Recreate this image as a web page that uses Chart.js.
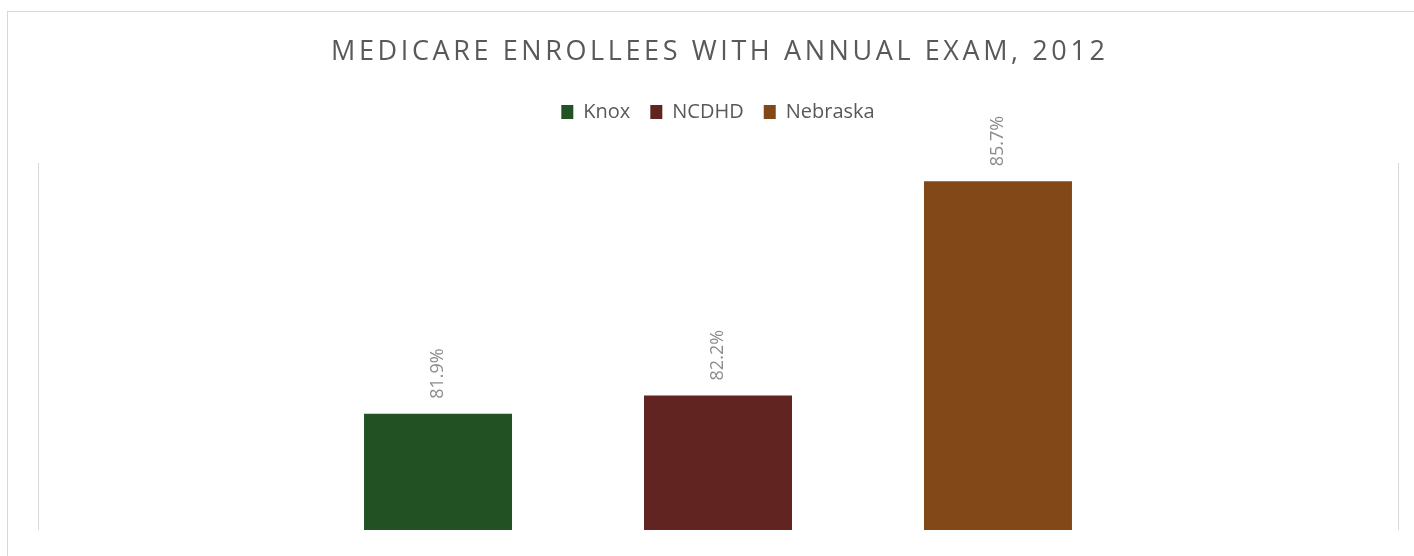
<!DOCTYPE html>
<html>
<head>
<meta charset="utf-8">
<script src="https://cdn.jsdelivr.net/npm/chart.js@4/dist/chart.umd.min.js"></script>
<style>
    html, body { margin: 0; padding: 0; background: #fff; overflow: hidden; }
    #frame {
        position: absolute; left: 7px; top: 11px; width: 2000px; height: 1000px;
        border-left: 1px solid #d9d9d9; border-top: 1px solid #d9d9d9;
    }
    #chart { position: absolute; left: 0; top: 0; }
</style>
</head>
<body>
<div id="frame"></div>
<canvas id="chart" width="1414" height="556"></canvas>
<script>
// Data
const chartTitle = 'MEDICARE ENROLLEES WITH ANNUAL EXAM, 2012';
const categories = ['2012'];
const seriesNames = ['Knox', 'NCDHD', 'Nebraska'];
const seriesValues = [81.9, 82.2, 85.7];
const seriesColors = ['#225224', '#622421', '#834818'];
const yMin = 80;
const yMax = 86;

const textGray = '#595959';

// Title with letter spacing (Excel style), drawn on the canvas
const spacedTitle = {
    id: 'spacedTitle',
    afterDraw(chart, args, opts) {
        const ctx = chart.ctx;
        const area = chart.chartArea;
        ctx.save();
        ctx.letterSpacing = opts.spacing + 'px';
        ctx.font = opts.size + 'px "Open Sans"';
        ctx.fillStyle = opts.color;
        ctx.textAlign = 'center';
        ctx.textBaseline = 'middle';
        ctx.fillText(opts.text, (area.left + area.right) / 2 + opts.spacing / 2, opts.y);
        ctx.restore();
    }
};

// Rotated value labels above each bar
const valueLabels = {
    id: 'valueLabels',
    afterDatasetsDraw(chart) {
        const ctx = chart.ctx;
        ctx.save();
        ctx.font = '18px "Open Sans"';
        ctx.fillStyle = '#8c8c8c';
        ctx.textAlign = 'left';
        ctx.textBaseline = 'middle';
        chart.data.datasets.forEach((ds, i) => {
            const meta = chart.getDatasetMeta(i);
            meta.data.forEach((bar, j) => {
                ctx.save();
                ctx.translate(bar.x, bar.y - 15);
                ctx.rotate(-Math.PI / 2);
                ctx.fillText(ds.data[j].toFixed(1) + '%', 0, 0);
                ctx.restore();
            });
        });
        ctx.restore();
    }
};

// Extra gap between legend and plot area
const legendGap = {
    id: 'legendGap',
    beforeInit(chart) {
        const origFit = chart.legend.fit;
        chart.legend.fit = function () {
            origFit.bind(chart.legend)();
            this.height += 31;
        };
    }
};

const datasets = seriesNames.map((name, i) => ({
    label: name,
    data: [seriesValues[i]],
    backgroundColor: seriesColors[i],
    borderWidth: 0,
    categoryPercentage: 0.6176,
    barPercentage: 0.5286
}));

new Chart(document.getElementById('chart').getContext('2d'), {
    type: 'bar',
    data: { labels: categories, datasets: datasets },
    plugins: [legendGap, spacedTitle, valueLabels],
    options: {
        responsive: false,
        animation: false,
        layout: { padding: { left: 38, right: 16, top: 82, bottom: 26 } },
        plugins: {
            title: { display: false },
            tooltip: { enabled: false },
            spacedTitle: { text: chartTitle, size: 27, spacing: 3.6, color: textGray, y: 52 },
            legend: {
                display: true,
                position: 'top',
                labels: {
                    boxWidth: 12,
                    boxHeight: 14,
                    padding: 20,
                    color: textGray,
                    font: { family: '"Open Sans"', size: 20 }
                }
            }
        },
        scales: {
            x: {
                display: true,
                offset: true,
                ticks: { display: false },
                border: { display: false },
                grid: { offset: true, color: '#d9d9d9', lineWidth: 1, drawTicks: false }
            },
            y: {
                display: false,
                min: yMin,
                max: yMax
            }
        }
    }
});
</script>
</body>
</html>
